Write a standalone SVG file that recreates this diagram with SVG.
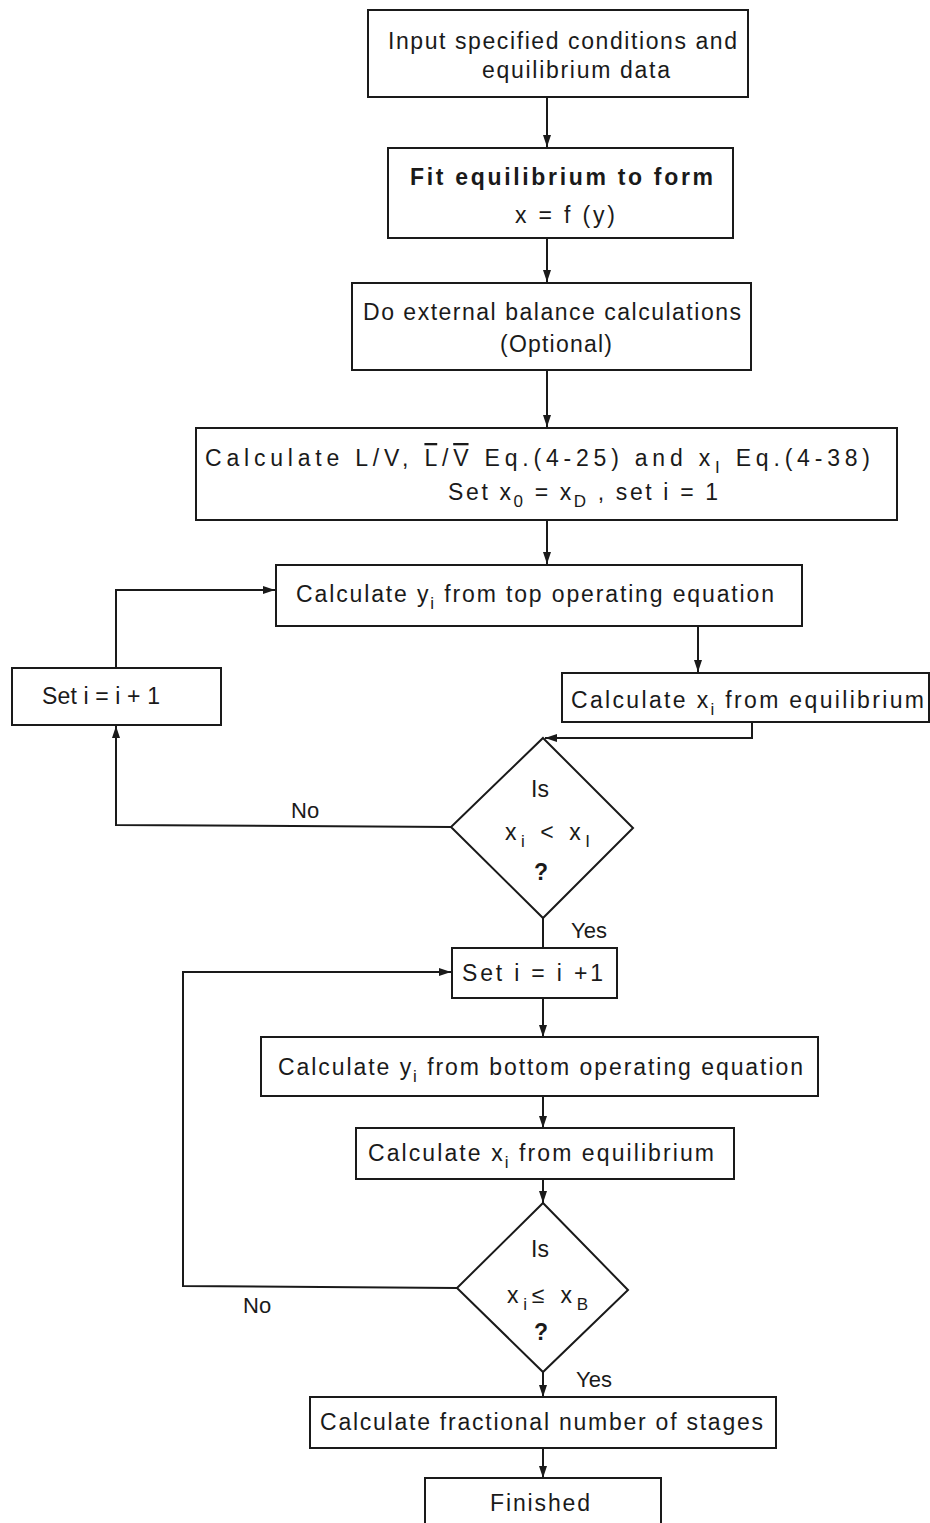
<svg xmlns="http://www.w3.org/2000/svg" width="930" height="1523" viewBox="0 0 930 1523">
  <style>
    .box { fill: #ffffff; stroke: #1a1a1a; stroke-width: 2; }
    .wire { fill: none; stroke: #1a1a1a; stroke-width: 2; }
    text { font-family: "Liberation Sans", Arial, sans-serif; font-size: 23px; fill: #1a1a1a; }
    .b { font-weight: bold; }
    .lbl { font-size: 22px; }
    .q { font-weight: bold; font-size: 23px; }
    .sub { font-size: 17px; }
  </style>
  <defs>
    <marker id="arr" viewBox="0 0 12 8" refX="12" refY="4" markerWidth="12" markerHeight="8" markerUnits="userSpaceOnUse" orient="auto">
      <path d="M0,0 L12,4 L0,8 z" fill="#1a1a1a"/>
    </marker>
  </defs>
  <rect width="930" height="1523" fill="#ffffff"/>

  <!-- connectors -->
  <g id="connectors">
    <line class="wire" x1="547" y1="97" x2="547" y2="147" marker-end="url(#arr)"/>
    <line class="wire" x1="547" y1="238" x2="547" y2="282" marker-end="url(#arr)"/>
    <line class="wire" x1="547" y1="370" x2="547" y2="427" marker-end="url(#arr)"/>
    <line class="wire" x1="547" y1="520" x2="547" y2="564" marker-end="url(#arr)"/>
    <line class="wire" x1="698" y1="626" x2="698" y2="672" marker-end="url(#arr)"/>
    <polyline class="wire" points="752,722 752,738 545,738" marker-end="url(#arr)"/>
    <polyline class="wire" points="451,827 116,825 116,726" marker-end="url(#arr)"/>
    <polyline class="wire" points="116,668 116,590 275,590" marker-end="url(#arr)"/>
    <line class="wire" x1="543" y1="918" x2="543" y2="948"/>
    <polyline class="wire" points="457,1288 183,1286 183,972 451,972" marker-end="url(#arr)"/>
    <line class="wire" x1="543" y1="998" x2="543" y2="1037" marker-end="url(#arr)"/>
    <line class="wire" x1="543" y1="1096" x2="543" y2="1128" marker-end="url(#arr)"/>
    <line class="wire" x1="543" y1="1179" x2="543" y2="1203" marker-end="url(#arr)"/>
    <line class="wire" x1="543" y1="1372" x2="543" y2="1397" marker-end="url(#arr)"/>
    <line class="wire" x1="543" y1="1448" x2="543" y2="1478" marker-end="url(#arr)"/>
    <text class="lbl" x="291" y="818">No</text>
    <text class="lbl" x="571" y="938">Yes</text>
    <text class="lbl" x="243" y="1313">No</text>
    <text class="lbl" x="576" y="1387">Yes</text>
  </g>

  <g id="input">
    <rect class="box" x="368" y="10" width="380" height="87"/>
    <text x="388" y="49" textLength="349" lengthAdjust="spacing">Input specified conditions and</text>
    <text x="482" y="78" textLength="188" lengthAdjust="spacing">equilibrium data</text>
  </g>

  <g id="fit">
    <rect class="box" x="388" y="148" width="345" height="90"/>
    <text class="b" x="410" y="185" textLength="303" lengthAdjust="spacing">Fit equilibrium to form</text>
    <text x="515" y="223" textLength="100" lengthAdjust="spacing">x = f (y)</text>
  </g>

  <g id="external">
    <rect class="box" x="352" y="283" width="399" height="87"/>
    <text x="363" y="320" textLength="378" lengthAdjust="spacing">Do external balance calculations</text>
    <text x="500" y="352" textLength="112" lengthAdjust="spacing">(Optional)</text>
  </g>

  <g id="ratios">
    <rect class="box" x="196" y="428" width="701" height="92"/>
    <text x="205" y="466" textLength="665" lengthAdjust="spacing">Calculate L/V, <tspan text-decoration="overline">L</tspan>/<tspan text-decoration="overline">V</tspan>  Eq.(4-25)  and  x<tspan class="sub" dy="7">I</tspan><tspan dy="-7">  Eq.(4-38)</tspan></text>
    <text x="448" y="500" textLength="270" lengthAdjust="spacing">Set x<tspan class="sub" dy="7">0</tspan><tspan dy="-7"> = x</tspan><tspan class="sub" dy="7">D</tspan><tspan dy="-7"> , set i = 1</tspan></text>
  </g>

  <g id="top-operating">
    <rect class="box" x="276" y="565" width="526" height="61"/>
    <text x="296" y="602" textLength="478" lengthAdjust="spacing">Calculate y<tspan class="sub" dy="7">i</tspan><tspan dy="-7"> from top operating equation</tspan></text>
  </g>

  <g id="equilibrium-top">
    <rect class="box" x="562" y="673" width="367" height="49"/>
    <text x="571" y="708" textLength="353" lengthAdjust="spacing">Calculate x<tspan class="sub" dy="7">i</tspan><tspan dy="-7"> from equilibrium</tspan></text>
  </g>

  <g id="increment-top">
    <rect class="box" x="12" y="668" width="209" height="57"/>
    <text x="42" y="704" textLength="118" lengthAdjust="spacing">Set i = i + 1</text>
  </g>

  <g id="test-feed">
    <polygon class="box" points="543,738 633,828 543,918 451,827"/>
    <text x="540" y="797" text-anchor="middle">Is</text>
    <text x="505" y="840" textLength="85" lengthAdjust="spacing">x<tspan class="sub" dy="7">i</tspan><tspan dy="-7"> &lt;  x</tspan><tspan class="sub" dy="7">I</tspan></text>
    <text class="q" x="541" y="880" text-anchor="middle">?</text>
  </g>

  <g id="increment-bottom">
    <rect class="box" x="452" y="948" width="165" height="50"/>
    <text x="462" y="981" textLength="141" lengthAdjust="spacing">Set  i = i +1</text>
  </g>

  <g id="bottom-operating">
    <rect class="box" x="261" y="1037" width="557" height="59"/>
    <text x="278" y="1075" textLength="525" lengthAdjust="spacing">Calculate y<tspan class="sub" dy="7">i</tspan><tspan dy="-7"> from bottom operating equation</tspan></text>
  </g>

  <g id="equilibrium-bottom">
    <rect class="box" x="356" y="1128" width="378" height="51"/>
    <text x="368" y="1161" textLength="346" lengthAdjust="spacing">Calculate x<tspan class="sub" dy="7">i</tspan><tspan dy="-7"> from equilibrium</tspan></text>
  </g>

  <g id="test-bottoms">
    <polygon class="box" points="543,1203 628,1290 543,1372 457,1288"/>
    <text x="540" y="1257" text-anchor="middle">Is</text>
    <text x="507" y="1303" textLength="81" lengthAdjust="spacing">x<tspan class="sub" dy="7">i</tspan><tspan dy="-7">≤ x</tspan><tspan class="sub" dy="7">B</tspan></text>
    <text class="q" x="541" y="1340" text-anchor="middle">?</text>
  </g>

  <g id="stages">
    <rect class="box" x="310" y="1397" width="466" height="51"/>
    <text x="320" y="1430" textLength="443" lengthAdjust="spacing">Calculate fractional number of stages</text>
  </g>

  <g id="finished">
    <rect class="box" x="425" y="1478" width="236" height="60"/>
    <text x="490" y="1511" textLength="100" lengthAdjust="spacing">Finished</text>
  </g>
</svg>
